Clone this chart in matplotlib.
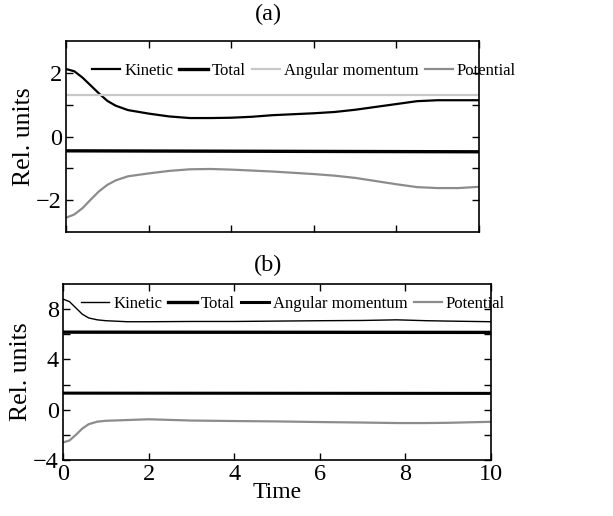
import matplotlib
matplotlib.use("Agg")
import matplotlib.pyplot as plt

plt.rcParams['font.family'] = ['Liberation Serif', 'DejaVu Serif']
plt.rcParams['mathtext.fontset'] = 'stix'

# panel (a)
t_a = [0, 0.2, 0.4, 0.6, 0.8, 1.0, 1.2, 1.5, 2.0, 2.5, 3.0, 3.5, 4.0, 4.5, 5.0, 5.5, 6.0, 6.5, 7.0, 7.5, 8.0, 8.5, 9.0, 9.5, 10]
kin_a = [2.12, 2.05, 1.85, 1.6, 1.35, 1.12, 0.97, 0.83, 0.72, 0.63, 0.58, 0.58, 0.59, 0.62, 0.67, 0.70, 0.73, 0.77, 0.84, 0.93, 1.02, 1.11, 1.14, 1.14, 1.14]
tot_a_t = [0, 10]
tot_a = [-0.45, -0.48]
ang_a_t = [0, 10]
ang_a = [1.29, 1.29]
pot_a = [-2.55, -2.45, -2.25, -1.98, -1.72, -1.52, -1.38, -1.25, -1.16, -1.08, -1.03, -1.02, -1.04, -1.07, -1.10, -1.14, -1.18, -1.23, -1.30, -1.40, -1.50, -1.59, -1.62, -1.62, -1.58]

# panel (b)
t_b = [0, 0.15, 0.3, 0.45, 0.6, 0.8, 1.0, 1.5, 2.0, 3.0, 4.0, 5.0, 6.0, 7.0, 7.8, 8.5, 9.0, 10]
kin_b = [8.8, 8.6, 8.1, 7.6, 7.3, 7.15, 7.08, 7.0, 7.0, 7.02, 7.02, 7.05, 7.08, 7.1, 7.15, 7.08, 7.05, 7.0]
pot_b = [-2.6, -2.45, -2.0, -1.5, -1.15, -0.95, -0.88, -0.82, -0.76, -0.86, -0.9, -0.93, -0.98, -1.02, -1.06, -1.06, -1.04, -0.96]
tot_b_t = [0, 10]
tot_b = [6.17, 6.15]
ang_b_t = [0, 10]
ang_b = [1.32, 1.30]

labels = ["Kinetic", "Total", "Angular momentum", "Potential"]

fig = plt.figure(figsize=(6.13, 5.16), dpi=100)
ax1 = fig.add_axes([0.1077, 0.5504, 0.6737, 0.3701])
ax2 = fig.add_axes([0.1028, 0.1085, 0.6982, 0.3411])

ax1.plot(t_a, kin_a, color='black', lw=1.6, label=labels[0])
ax1.plot(tot_a_t, tot_a, color='black', lw=2.4, label=labels[1])
ax1.plot(ang_a_t, ang_a, color='#c8c8c8', lw=1.6, label=labels[2])
ax1.plot(t_a, pot_a, color='#8c8c8c', lw=1.6, label=labels[3])

ax2.plot(t_b, kin_b, color='black', lw=1.0, label=labels[0])
ax2.plot(tot_b_t, tot_b, color='black', lw=2.4, label=labels[1])
ax2.plot(ang_b_t, ang_b, color='black', lw=2.2, label=labels[2])
ax2.plot(t_b, pot_b, color='#8c8c8c', lw=1.6, label=labels[3])

ax1.set_xlim(0, 10)
ax1.set_ylim(-3, 3)
ax1.set_xticks([0, 2, 4, 6, 8, 10])
ax1.set_xticklabels([])
ax1.set_yticks([-2, -1, 0, 1, 2])
ax1.set_yticklabels(['\u22122', '', '0', '', '2'])

ax2.set_xlim(0, 10)
ax2.set_ylim(-4, 10)
ax2.set_xticks([0, 2, 4, 6, 8, 10])
ax2.set_yticks([-4, -2, 0, 2, 4, 6, 8])
ax2.set_yticklabels(['\u22124', '', '0', '', '4', '', '8'])
ax2.set_xlabel('Time', fontsize=17, labelpad=-2)

for ax in (ax1, ax2):
    ax.tick_params(direction='in', top=True, right=True, length=5, width=1,
                   labelsize=17.5, pad=3)
    for s in ax.spines.values():
        s.set_linewidth(1.2)
    ax.set_ylabel('Rel. units', fontsize=18.5, labelpad=1)
    ax.legend(loc='center', ncol=4, frameon=False, fontsize=12,
              handlelength=1.7, handletextpad=0.25, columnspacing=0.35,
              borderaxespad=0)

ax1.get_legend().set_bbox_to_anchor((304 / 613, 1 - 71 / 516), transform=fig.transFigure)
ax2.get_legend().set_bbox_to_anchor((293 / 613, 1 - 304 / 516), transform=fig.transFigure)

fig.text(268 / 613, 1 - 14 / 516, '(a)', ha='center', va='center', fontsize=17.5)
fig.text(268 / 613, 1 - 265 / 516, '(b)', ha='center', va='center', fontsize=17.5)

fig.savefig('out.png', dpi=100)
